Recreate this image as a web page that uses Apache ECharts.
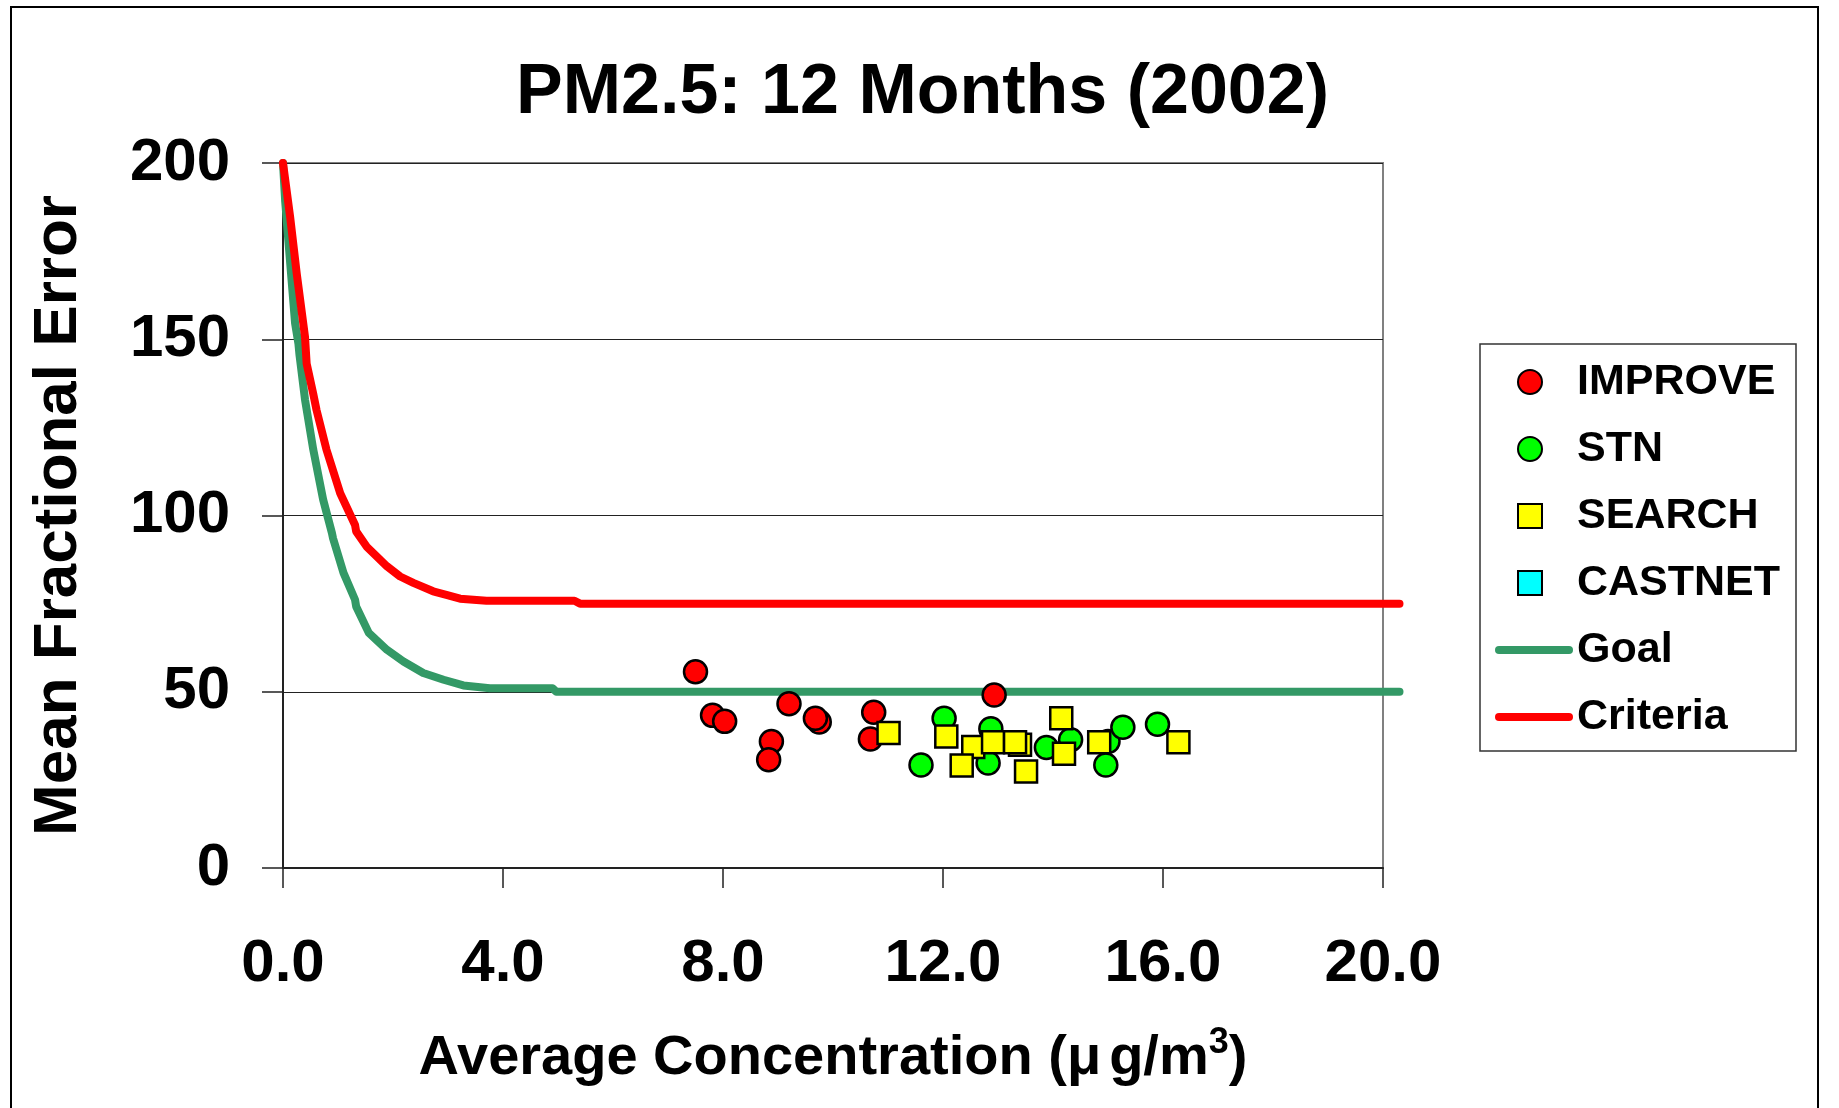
<!DOCTYPE html>
<html>
<head>
<meta charset="utf-8">
<script src="https://cdn.jsdelivr.net/npm/echarts@6/dist/echarts.min.js"></script>
<style>
  html, body { margin: 0; padding: 0; background: #fff; }
  #chart { width: 1839px; height: 1108px; }
</style>
</head>
<body>
<div id="chart"></div>
<script>
// Network monthly-average PM2.5 performance: concentration (µg/m3) vs mean fractional error (%)
const improveConc = [7.50, 7.81, 8.03, 9.20, 8.88, 8.83, 9.75, 9.68, 10.68, 10.74, 12.93];
const improveMFE  = [55.7, 43.3, 41.6, 46.6, 35.9, 30.7, 41.4, 42.5, 36.6, 44.2, 49.1];

const stnConc = [11.60, 12.02, 12.87, 12.82, 13.88, 14.32, 15.00, 14.96, 15.27, 15.90];
const stnMFE  = [29.2, 42.5, 39.5, 29.8, 34.2, 36.4, 35.9, 29.2, 39.9, 40.8];

const searchConc = [11.01, 12.06, 12.55, 12.34, 12.91, 13.40, 13.31, 13.51, 14.15, 14.20, 14.84, 16.28];
const searchMFE  = [38.3, 37.3, 34.3, 29.1, 35.7, 35.0, 35.7, 27.4, 42.5, 32.4, 35.7, 35.7];

const castnetConc = [];
const castnetMFE  = [];

// Performance goal and criteria curves (run slightly past 20 on the right)
const goalConc = [0, 0.04, 0.22, 0.28, 0.30, 0.40, 0.55, 0.73, 0.89, 0.91, 1.10, 1.31, 1.33, 1.56,
                  1.89, 2.19, 2.55, 2.92, 3.28, 3.76, 4.90, 4.97, 10.0, 17.5, 20.3];
const goalMFE  = [200, 189, 154.5, 148.8, 145.5, 132.9, 118.7, 104.5, 95.0, 93.5, 83.7, 76.1, 74.2, 66.7,
                  61.9, 58.6, 55.3, 53.4, 51.8, 51.0, 51.0, 50.0, 50.0, 50.0, 50.0];

const criteriaConc = [0, 0.13, 0.25, 0.40, 0.43, 0.55, 0.61, 0.79, 1.04, 1.31, 1.33, 1.52, 1.89,
                      2.13, 2.37, 2.73, 2.97, 3.22, 3.70, 5.30, 5.40, 10.0, 17.5, 20.3];
const criteriaMFE  = [200, 184.7, 168.6, 150.7, 143.1, 134.5, 129.9, 118.7, 106.3, 97.3, 95.5, 91.2, 85.6,
                      82.7, 80.9, 78.5, 77.5, 76.4, 75.8, 75.8, 75.0, 75.0, 75.0, 75.0];

const xTickLabels = ['0.0', '4.0', '8.0', '12.0', '16.0', '20.0'];
const yTickLabels = ['0', '50', '100', '150', '200'];

const FONT = '"Liberation Sans", Arial, Helvetica, sans-serif';

function pairs(xs, ys) { return xs.map((x, i) => [x, ys[i]]); }

const pointStyle = (fill) => ({ color: fill, borderColor: '#000', borderWidth: 2.5, opacity: 1 });

// Plot area geometry
const PLOT_LEFT = 283, PLOT_TOP = 163, PLOT_W = 1100, PLOT_H = 705;
const X_MAX = 20, X_MAX_CURVES = 20.35;

// Legend frame and rows
const LEG_X = 1480, LEG_Y = 344, LEG_W = 316, LEG_H = 407;
const ROW_H = 44, ROW_GAP = 23;

const legendText = (padLeft) => ({
  fontFamily: FONT, fontSize: 43, fontWeight: 'bold', color: '#000',
  lineHeight: ROW_H, padding: [0, 0, 0, padLeft]
});

const chart = echarts.init(document.getElementById('chart'), null, { renderer: 'canvas' });

chart.setOption({
  animation: false,
  backgroundColor: '#fff',
  title: {
    text: 'PM2.5: 12 Months (2002)',
    left: 516,
    top: 59,
    padding: 0,
    textStyle: { fontFamily: FONT, fontSize: 70, fontWeight: 'bold', color: '#000', lineHeight: 70 }
  },
  graphic: [
    {
      type: 'rect', silent: true, z: -10,
      shape: { x: 11, y: 7, width: 1807, height: 1130 },
      style: { fill: 'transparent', stroke: '#000', lineWidth: 2 }
    },
    {
      type: 'rect', silent: true, z: 0,
      shape: { x: LEG_X, y: LEG_Y, width: LEG_W, height: LEG_H },
      style: { fill: '#fff', stroke: '#333', lineWidth: 1.5 }
    }
  ],
  grid: [
    {
      left: PLOT_LEFT, top: PLOT_TOP, width: PLOT_W, height: PLOT_H,
      show: true, borderColor: '#808080', borderWidth: 2, backgroundColor: 'transparent'
    },
    // same plot area, stretched on the right so the curves can run past x = 20
    {
      left: PLOT_LEFT, top: PLOT_TOP, width: PLOT_W * X_MAX_CURVES / X_MAX, height: PLOT_H,
      show: false
    }
  ],
  legend: [
    // marker rows
    {
      orient: 'vertical',
      left: 1517, top: 360, padding: 0,
      itemWidth: 24, itemHeight: 24, itemGap: ROW_GAP,
      textStyle: legendText(30),
      data: ['IMPROVE', 'STN', 'SEARCH', 'CASTNET']
    },
    // line rows
    {
      orient: 'vertical',
      left: 1495, top: 628, padding: 0,
      itemWidth: 70, itemHeight: 24, itemGap: ROW_GAP,
      textStyle: legendText(3),
      data: [
        { name: 'Goal', itemStyle: { opacity: 0 }, lineStyle: { width: 8, color: '#339966', cap: 'round' } },
        { name: 'Criteria', itemStyle: { opacity: 0 }, lineStyle: { width: 8, color: '#ff0000', cap: 'round' } }
      ]
    }
  ],
  xAxis: [
    {
      gridIndex: 0,
      type: 'value', min: 0, max: X_MAX, interval: 4,
      name: 'Average Concentration ({mu|μ}g/m{sup|3})',
      nameLocation: 'middle', nameGap: 157,
      nameTextStyle: {
        fontFamily: FONT, fontSize: 56, fontWeight: 'bold', color: '#000', lineHeight: 68,
        rich: {
          mu: { fontFamily: FONT, fontSize: 56, fontWeight: 'bold', color: '#000', lineHeight: 68, padding: [0, 8, 0, 0] },
          sup: { fontFamily: FONT, fontSize: 36, fontWeight: 'bold', color: '#000', verticalAlign: 'top' }
        }
      },
      axisLine: { lineStyle: { color: '#222', width: 2 } },
      axisTick: { show: true, length: 20, lineStyle: { color: '#222', width: 1.5 } },
      splitLine: { show: false },
      axisLabel: {
        fontFamily: FONT, fontSize: 60, fontWeight: 'bold', color: '#000', lineHeight: 60, margin: 66,
        showMinLabel: true, showMaxLabel: true,
        formatter: (v) => xTickLabels[Math.round(v / 4)]
      }
    },
    { gridIndex: 1, type: 'value', min: 0, max: X_MAX_CURVES, show: false }
  ],
  yAxis: [
    {
      gridIndex: 0,
      type: 'value', min: 0, max: 200, interval: 50,
      name: 'Mean Fractional Error',
      nameLocation: 'middle', nameGap: 193,
      nameTextStyle: { fontFamily: FONT, fontSize: 62, fontWeight: 'bold', color: '#000', lineHeight: 62 },
      axisLine: { show: true, lineStyle: { color: '#222', width: 2 } },
      axisTick: { show: true, length: 21, lineStyle: { color: '#222', width: 1.5 } },
      splitLine: { show: true, lineStyle: { color: '#222', width: 1 } },
      axisLabel: {
        fontFamily: FONT, fontSize: 60, fontWeight: 'bold', color: '#000', lineHeight: 60, margin: 53,
        showMinLabel: true, showMaxLabel: true,
        formatter: (v) => yTickLabels[Math.round(v / 50)]
      }
    },
    { gridIndex: 1, type: 'value', min: 0, max: 200, show: false }
  ],
  series: [
    {
      name: 'Goal', type: 'line', data: pairs(goalConc, goalMFE),
      xAxisIndex: 1, yAxisIndex: 1,
      symbol: 'none', showSymbol: false, clip: false, z: 2, silent: true,
      color: '#339966',
      lineStyle: { color: '#339966', width: 8, cap: 'round', join: 'round' }
    },
    {
      name: 'Criteria', type: 'line', data: pairs(criteriaConc, criteriaMFE),
      xAxisIndex: 1, yAxisIndex: 1,
      symbol: 'none', showSymbol: false, clip: false, z: 3, silent: true,
      color: '#ff0000',
      lineStyle: { color: '#ff0000', width: 8, cap: 'round', join: 'round' }
    },
    {
      name: 'IMPROVE', type: 'scatter', data: pairs(improveConc, improveMFE),
      symbol: 'circle', symbolSize: 23, z: 5, itemStyle: pointStyle('#ff0000')
    },
    {
      name: 'STN', type: 'scatter', data: pairs(stnConc, stnMFE),
      symbol: 'circle', symbolSize: 23, z: 6, itemStyle: pointStyle('#00ff00')
    },
    {
      name: 'SEARCH', type: 'scatter', data: pairs(searchConc, searchMFE),
      symbol: 'rect', symbolSize: 22, z: 7, itemStyle: pointStyle('#ffff00')
    },
    {
      name: 'CASTNET', type: 'scatter', data: pairs(castnetConc, castnetMFE),
      symbol: 'rect', symbolSize: 22, z: 8, itemStyle: pointStyle('#00ffff')
    }
  ]
});
</script>
</body>
</html>
